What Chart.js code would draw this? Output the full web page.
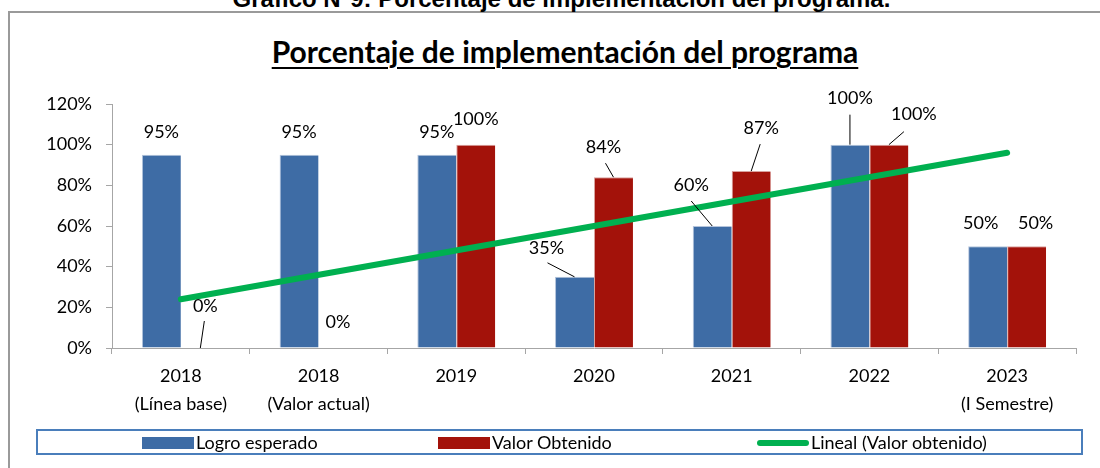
<!DOCTYPE html>
<html>
<head>
<meta charset="utf-8">
<script src="https://cdn.jsdelivr.net/npm/chart.js@4.4.1/dist/chart.umd.min.js"></script>
<style>
  body { margin: 0; width: 1100px; height: 468px; overflow: hidden; background: #fff; position: relative; }
  #frame { position: absolute; left: 8px; top: 11px; width: 1200px; height: 600px; border: 2px solid #9a9a9a; box-sizing: border-box; }
  #cap { position: absolute; left: 0; width: 1123px; top: -13px; text-align: center; font: bold 24px "Liberation Sans", Arial, sans-serif; line-height: 24px; color: #000; white-space: nowrap; }
  #title { position: absolute; left: 0; width: 1130px; top: 34px; text-align: center; font: bold 30px Lato, sans-serif; line-height: 34px; text-decoration: underline; text-decoration-thickness: 2px; text-underline-offset: 4px; color: #000; }
  #chart { position: absolute; left: 0; top: 0; }
  #legend { position: absolute; left: 36px; top: 429px; width: 1047px; height: 26px; border: 2px solid #4a7ebb; box-sizing: border-box; font: 18px Lato, sans-serif; }
  .item { position: absolute; top: 0; height: 22px; line-height: 22px; white-space: nowrap; }
  .sw { display: inline-block; width: 52px; height: 12px; vertical-align: middle; margin-right: 2px; position: relative; top: -1px; }
  .ln { height: 6px; border-radius: 3px; }
</style>
</head>
<body>
<div id="frame"></div>
<div id="cap">Grafico N°9: Porcentaje de implementación del programa.</div>
<div id="title">Porcentaje de implementación del programa</div>
<canvas id="chart" width="1100" height="468"></canvas>
<div id="legend"></div>
<script>
// data
const categories = [
    ["2018", "(Línea base)"],
    ["2018", "(Valor actual)"],
    ["2019"],
    ["2020"],
    ["2021"],
    ["2022"],
    ["2023", "(I Semestre)"]
];
const logroEsperado = [95, 95, 95, 35, 60, 100, 50];
const valorObtenido = [0, 0, 100, 84, 87, 100, 50];
// trend line endpoints (first and last category) as drawn in the picture
const tendencia = [24, null, null, null, null, null, 96];
const yTicks = [0, 20, 40, 60, 80, 100, 120];
const seriesNames = ["Logro esperado", "Valor Obtenido", "Lineal (Valor obtenido)"];

const BLUE = "#3e6ca5";
const RED = "#a3120a";
const GREEN = "#00b050";

// label placement: [dx, dy] from bar top, optional leader start [lx, ly]
const labelPos = [
    [[0, -23], [0, -23], [0, -23], [-28, -29, -27, -14], [-21, -41, -21, -25], [0, -46, 0, -30], [-7, -23]],
    [[5, -42, 4, -27], [0, -26], [0, -25], [-10, -30, -8, -14], [10, -43, 9, -27], [25, -30, 15, -13], [9, -23]]
];

const dataLabels = {
    id: "dataLabels",
    afterDatasetsDraw(chart) {
        const ctx = chart.ctx;
        ctx.save();
        ctx.font = "18px Lato";
        ctx.fillStyle = "#000";
        ctx.strokeStyle = "#000";
        ctx.lineWidth = 1;
        ctx.textAlign = "center";
        ctx.textBaseline = "middle";
        [0, 1].forEach(d => {
            const meta = chart.getDatasetMeta(d);
            meta.data.forEach((bar, i) => {
                const p = labelPos[d][i];
                const v = chart.data.datasets[d].data[i];
                ctx.fillText(v + "%", bar.x + p[0], bar.y + p[1]);
                if (p.length > 2) {
                    ctx.beginPath();
                    ctx.moveTo(bar.x + p[2], bar.y + p[3]);
                    ctx.lineTo(bar.x, bar.y);
                    ctx.stroke();
                }
            });
        });
        ctx.restore();
    }
};

Chart.defaults.font.family = "Lato";
Chart.defaults.font.size = 18;
Chart.defaults.color = "#000";

const chart = new Chart(document.getElementById("chart"), {
    type: "bar",
    data: {
        labels: categories,
        datasets: [
            {
                label: seriesNames[0],
                data: logroEsperado,
                backgroundColor: BLUE,
                borderColor: "#b4c4dc",
                borderWidth: { top: 1, left: 1, right: 0, bottom: 0 },
                categoryPercentage: 0.566,
                barPercentage: 1,
                order: 1
            },
            {
                label: seriesNames[1],
                data: valorObtenido,
                backgroundColor: RED,
                borderColor: "#d8a29e",
                borderWidth: { top: 1, left: 1, right: 0, bottom: 0 },
                categoryPercentage: 0.566,
                barPercentage: 1,
                order: 1
            },
            {
                type: "line",
                label: seriesNames[2],
                data: tendencia,
                spanGaps: true,
                borderColor: GREEN,
                borderWidth: 6,
                borderCapStyle: "round",
                pointRadius: 0,
                fill: false,
                order: 0
            }
        ]
    },
    options: {
        responsive: false,
        animation: false,
        layout: { padding: { top: 104, right: 24, bottom: 0, left: 0 } },
        plugins: {
            legend: { display: false },
            tooltip: { enabled: false },
            title: { display: false }
        },
        scales: {
            x: {
                offset: true,
                grid: { offset: true, drawOnChartArea: false, drawTicks: true, tickLength: 6, color: "#a6a6a6" },
                border: { color: "#a6a6a6", width: 1 },
                ticks: { padding: 8, font: { size: 18, lineHeight: 1.55 }, maxRotation: 0, autoSkip: false },
                afterFit(s) { s.height = 120; }
            },
            y: {
                min: 0,
                max: 120,
                afterBuildTicks(s) { s.ticks = yTicks.map(v => ({ value: v })); },
                grid: { drawOnChartArea: false, drawTicks: true, tickLength: 6, color: "#a6a6a6" },
                border: { color: "#a6a6a6", width: 1 },
                ticks: { padding: 14, callback: v => v + "%" },
                afterFit(s) { s.width = 112; }
            }
        }
    },
    plugins: [dataLabels]
});

// legend
const legend = document.getElementById("legend");
const items = [
    { name: seriesNames[0], color: BLUE, left: 104, line: false },
    { name: seriesNames[1], color: RED, left: 400, line: false },
    { name: seriesNames[2], color: GREEN, left: 719, line: true }
];
items.forEach(it => {
    const el = document.createElement("div");
    el.className = "item";
    el.style.left = it.left + "px";
    el.innerHTML = '<span class="sw' + (it.line ? ' ln' : '') + '" style="background:' + it.color + '"></span>' + it.name;
    legend.appendChild(el);
});
</script>
</body>
</html>
